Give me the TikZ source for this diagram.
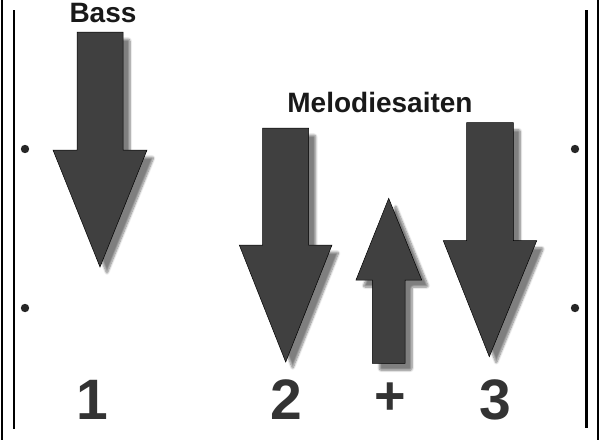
\documentclass[tikz,border=0pt]{standalone}
\usepackage{fontspec}
\setmainfont{Liberation Sans}
\usetikzlibrary{shadows.blur}
\definecolor{arrowgray}{HTML}{404040}
\definecolor{numgray}{HTML}{333333}
\tikzset{
  bigarrow/.style={fill=arrowgray,draw=black,line width=0.5pt,
    blur shadow={shadow xshift=7pt,shadow yshift=-7pt,shadow blur steps=8,shadow blur extra rounding=2pt,shadow opacity=50}},
  rail/.style={line width=2.6pt,black},
  peg/.style={fill=black!85},
  title/.style={font=\bfseries\fontsize{28}{30}\selectfont,text=black!90},
  num/.style={font=\bfseries\fontsize{57}{60}\selectfont,text=numgray},
}
\begin{document}
\begin{tikzpicture}[x=1pt,y=-1pt]
\useasboundingbox (0,0) rectangle (600,440);
% rails
\draw[rail] (2,0) -- (2,440);
\draw[rail] (598,0) -- (598,440);
\draw[rail] (14,10) -- (14,429);
\draw[rail] (586.5,10) -- (586.5,428);
% pegs
\fill[peg] (25,149) circle[radius=4.2pt];
\fill[peg] (25,308) circle[radius=4.2pt];
\fill[peg] (575,149) circle[radius=4.2pt];
\fill[peg] (575,308) circle[radius=4.2pt];
% arrows
\path[bigarrow] (77,32) -- (123,32) -- (123,150) -- (147,150) -- (100,267) -- (53,150) -- (77,150) -- cycle;
\path[bigarrow] (262.7,128) -- (308.7,128) -- (308.7,245) -- (332,245) -- (285.7,362) -- (239.3,245) -- (262.7,245) -- cycle;
\path[bigarrow] (372.3,363.3) -- (405,363.3) -- (405,280) -- (421.7,280) -- (388.7,198.3) -- (356,280) -- (372.3,280) -- cycle;
\path[bigarrow] (466.7,122.7) -- (513.3,122.7) -- (513.3,240.7) -- (536.7,240.7) -- (489.3,356.7) -- (443.3,240.7) -- (466.7,240.7) -- cycle;
% labels
\node[title] (bass) at (103,13) {Bass};
\node[title] (melodie) at (380,102) {Melodiesaiten};
\node[num] (n1) at (92,400) {1};
\node[num] (n2) at (286,400) {2};
\node[num,font=\bfseries\fontsize{54}{58}\selectfont] (plus) at (390,399) {+};
\node[num] (n3) at (495,400) {3};
\end{tikzpicture}
\end{document}
